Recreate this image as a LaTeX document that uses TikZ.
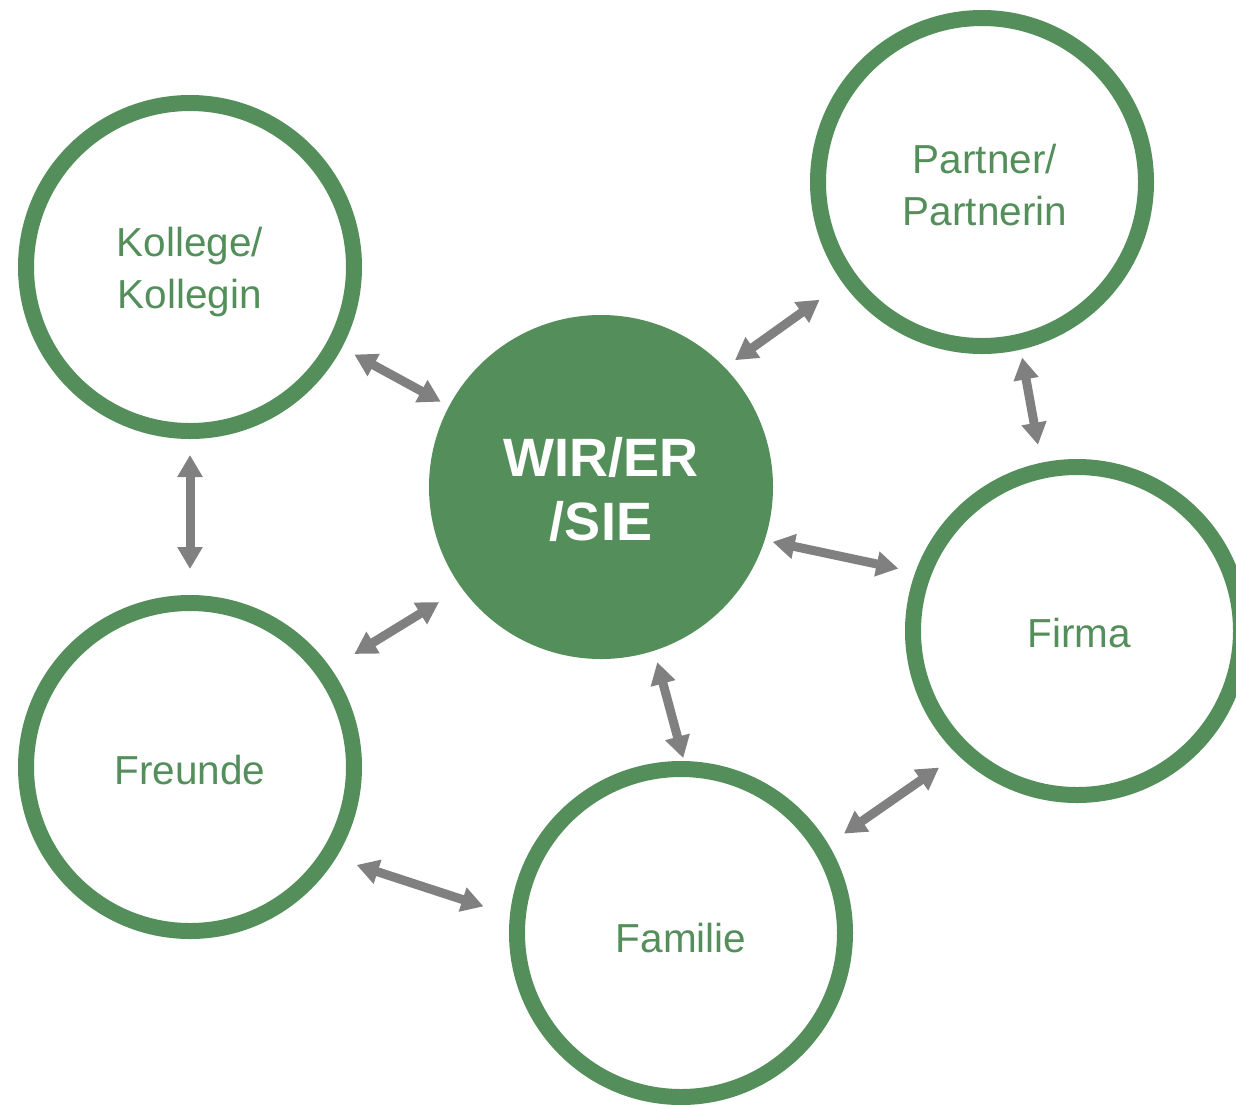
\documentclass[tikz,border=0pt]{standalone}
\usepackage{fontspec}
\setmainfont{Liberation Sans}
\usetikzlibrary{arrows.meta}
\definecolor{grn}{HTML}{548F5B}
\definecolor{arr}{HTML}{808080}
\begin{document}
\begin{tikzpicture}[x=1pt,y=-1pt,
  ring/.style={circle, draw=grn, line width=16pt, minimum size=328pt, inner sep=0pt, outer sep=8pt, fill=white},
  core/.style={ring, fill=grn},
  lbl/.style={text=grn, font=\fontsize{40.5}{52}\selectfont, align=center},
  corelbl/.style={text=white, font=\bfseries\fontsize{54}{64}\selectfont, align=center},
  link/.style={draw=arr, line width=9pt, {Triangle[length=22pt,width=24pt]}-{Triangle[length=22pt,width=24pt]}}]
\useasboundingbox (0,0) rectangle (1236,1104);
\clip (0,0) rectangle (1236,1104);
\fill[white] (0,0) rectangle (1236,1104);

\node[ring, label={[lbl,yshift=-5pt]center:{Kollege/\\Kollegin}}] (kol) at (190,267) {};
\node[ring, label={[lbl,yshift=-3pt,xshift=3pt]center:{Partner/\\Partnerin}}] (par) at (982,182) {};
\node[core, label={[corelbl,yshift=-2pt]center:{WIR/ER\\/SIE}}] (wir) at (601,487) {};
\node[ring, label={[lbl,yshift=-2pt,xshift=2pt]center:{Firma}}] (fir) at (1077,631) {};
\node[ring, label={[lbl,yshift=-3pt]center:{Freunde}}] (fre) at (190,767) {};
\node[ring, label={[lbl,yshift=-5pt]center:{Familie}}] (fam) at (681,933) {};

\draw[link, shorten <=14.2pt, shorten >=9.6pt] (kol.-28.9) -- (wir.152.4);
\draw[link, shorten <=16pt, shorten >=26pt] (kol.-90) -- (fre.90);
\draw[link, shorten <=27.5pt, shorten >=26.7pt] (fre.35.2) -- (wir.-144.6);
\draw[link, shorten <=21.9pt, shorten >=27.8pt] (fre.-32.8) -- (fam.174.8);
\draw[link, shorten <=12pt, shorten >=3pt] (wir.-72) -- (fam.89.7);
\draw[link, shorten <=12.6pt, shorten >=28.6pt] (wir.44.3) -- (par.-144.3);
\draw[link, shorten <=8.1pt, shorten >=18.3pt] (par.-77.8) -- (fir.102.1);
\draw[link, shorten <=8.2pt, shorten >=17.4pt] (wir.-18.4) -- (fir.160.9);
\draw[link, shorten <=18.9pt, shorten >=22.5pt] (fam.31.9) -- (fir.-134);
\end{tikzpicture}
\end{document}
